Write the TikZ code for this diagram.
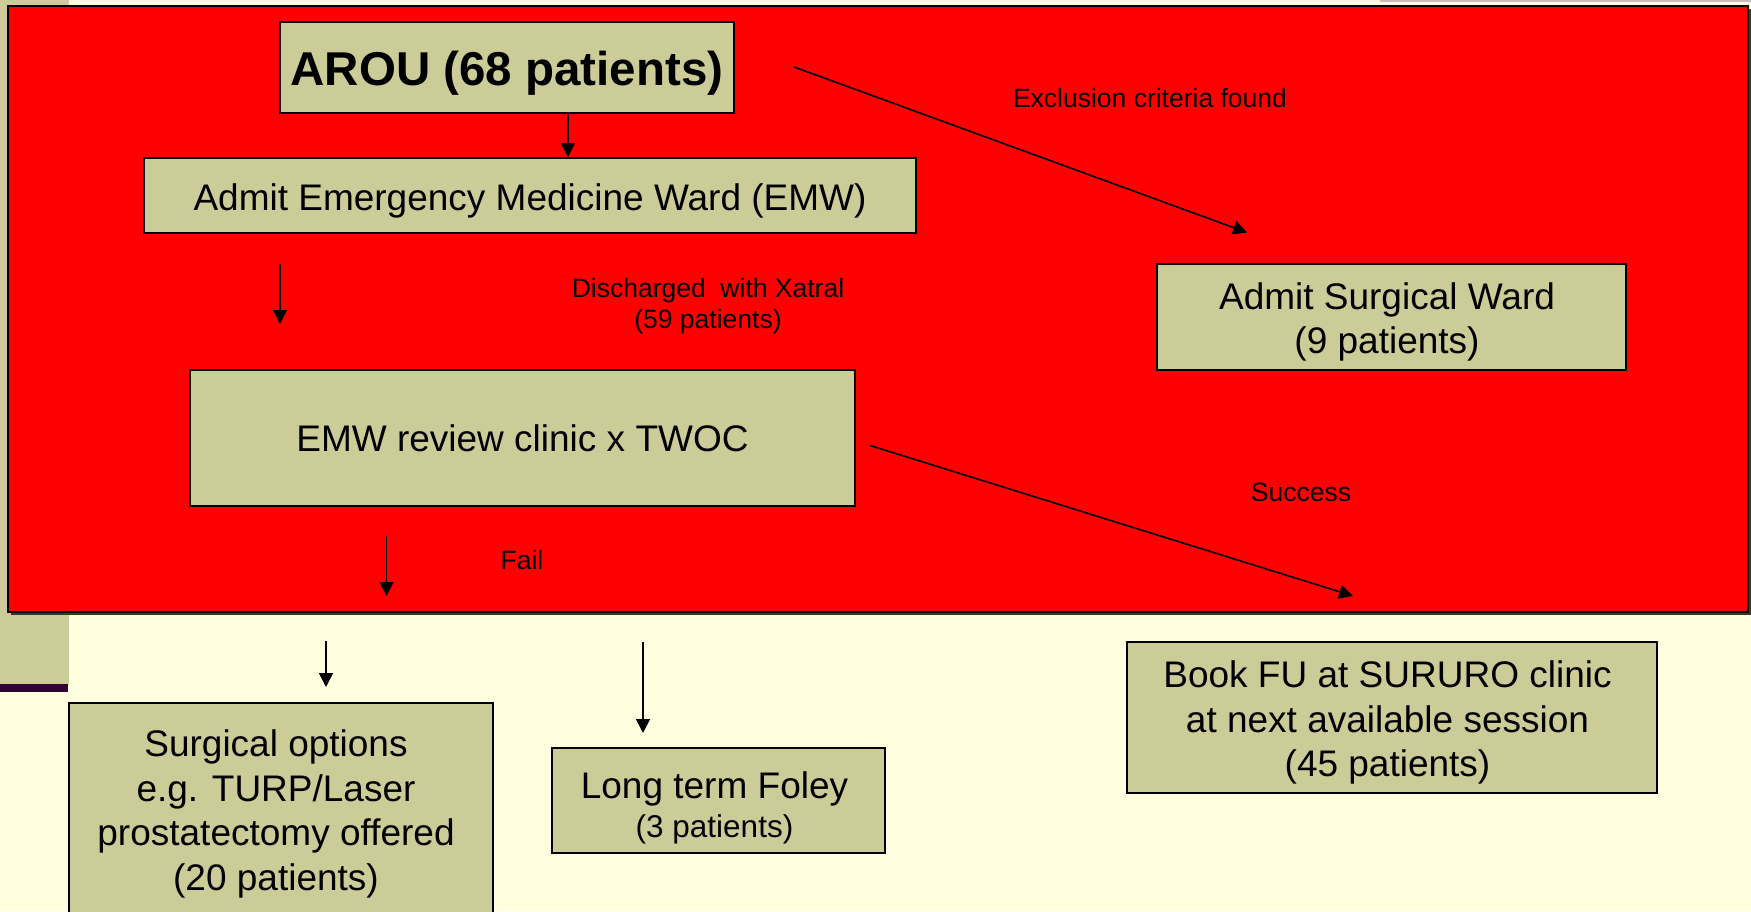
\documentclass[tikz,border=0pt]{standalone}
\usepackage{fontspec}
\setmainfont{Liberation Sans}
\usetikzlibrary{arrows.meta}
\definecolor{bgyellow}{HTML}{FFFFE0}
\definecolor{khaki}{HTML}{CCCC99}
\definecolor{slidered}{HTML}{FF0000}
\definecolor{plum}{HTML}{330033}
\definecolor{shadowcol}{HTML}{3A3A22}
\newcommand{\topstrut}[1]{\rule{0pt}{#1}}
\newcommand{\lsh}{\hspace*{-9pt}}
\begin{document}
\begin{tikzpicture}[x=1pt,y=-1pt,
  box/.style={draw=black, line width=1.8pt, fill=khaki, inner sep=0pt, align=center,
              font=\fontsize{37}{44.5}\selectfont},
  txt/.style={inner sep=0pt, align=center, font=\fontsize{37}{44.5}\selectfont},
  lbl/.style={inner sep=0pt, align=center, font=\fontsize{26.5}{31}\selectfont},
  arr/.style={line width=1.6pt, -{Triangle[length=14pt,width=14pt]}}]
\useasboundingbox (0,0) rectangle (1751,911);
% slide background
\fill[bgyellow] (0,0) rectangle (1751,911);
\fill[khaki] (0,0) rectangle (69,685);
\fill[plum] (0,684) rectangle (68,692);
\fill[black!25] (1380,0) rectangle (1751,1.5);
% red panel
\fill[shadowcol] (11,9) rectangle (1751,615);
\draw[line width=1.8pt, fill=slidered] (8,6) rectangle (1748,612);

% nodes
\node[box, font=\bfseries\fontsize{47.5}{57}\selectfont, minimum width=454pt, minimum height=91pt]
  (arou) at (507,67.5) {\topstrut{46pt}AROU (68 patients)};
\node[box, minimum width=772pt, minimum height=75pt] (emw) at (530,195.5)
  {\topstrut{38pt}Admit Emergency Medicine Ward (EMW)};
\node[box, minimum width=469pt, minimum height=106pt] (asw) at (1391.5,317)
  {\lsh\topstrut{37pt}Admit Surgical Ward\\\lsh(9 patients)};
\node[box, minimum width=665pt, minimum height=136pt] (rev) at (522.5,438)
  {EMW review clinic x TWOC};
\node[box, anchor=north, minimum width=424pt, minimum height=260pt] (surg) at (281,702) {};
\node[txt] (surgtxt) at (276,814) {Surgical options\\e.g. TURP/Laser\\prostatectomy offered\\(20 patients)};
\node[box, font=\fontsize{37}{39}\selectfont, minimum width=333pt, minimum height=105pt] (foley) at (718.5,800.5)
  {\hspace*{-8pt}\topstrut{41.5pt}Long term Foley\\\hspace*{-8pt}{\fontsize{31.5}{39}\selectfont (3 patients)}};
\node[box, minimum width=530pt, minimum height=151pt] (book) at (1392,717.5)
  {\lsh\topstrut{37pt}Book FU at SURURO clinic\\\lsh at next available session\\\lsh(45 patients)};

% labels
\node[lbl, anchor=base] (lexcl) at (1150,107) {Exclusion criteria found};
\node[lbl] (ldis) at (708,306.5) {Discharged\ \ with Xatral\\(59 patients)};
\node[lbl, anchor=base] (lsucc) at (1301,501) {Success};
\node[lbl, anchor=base] (lfail) at (522,569) {Fail};

% free arrow ends
\coordinate (c1) at (568,0);
\coordinate (a2s) at (280,264);
\coordinate (a2e) at (280,324);
\coordinate (d1s) at (794,67);
\coordinate (d1e) at (1247,232.5);
\coordinate (d2s) at (870,445.5);
\coordinate (d2e) at (1353,596);
\coordinate (a3s) at (386.5,536);
\coordinate (a3e) at (386.5,596);
\coordinate (a4s) at (326,641);
\coordinate (a4e) at (326,687);
\coordinate (a5s) at (643,642);
\coordinate (a5e) at (643,733);

% connectors
\draw[arr] (arou.south -| c1) -- (emw.north -| c1);
\draw[arr] (a2s) -- (a2e);
\draw[arr] (d1s) -- (d1e);
\draw[arr] (d2s) -- (d2e);
\draw[arr] (a3s) -- (a3e);
\draw[arr] (a4s) -- (a4e);
\draw[arr] (a5s) -- (a5e);
\end{tikzpicture}
\end{document}
